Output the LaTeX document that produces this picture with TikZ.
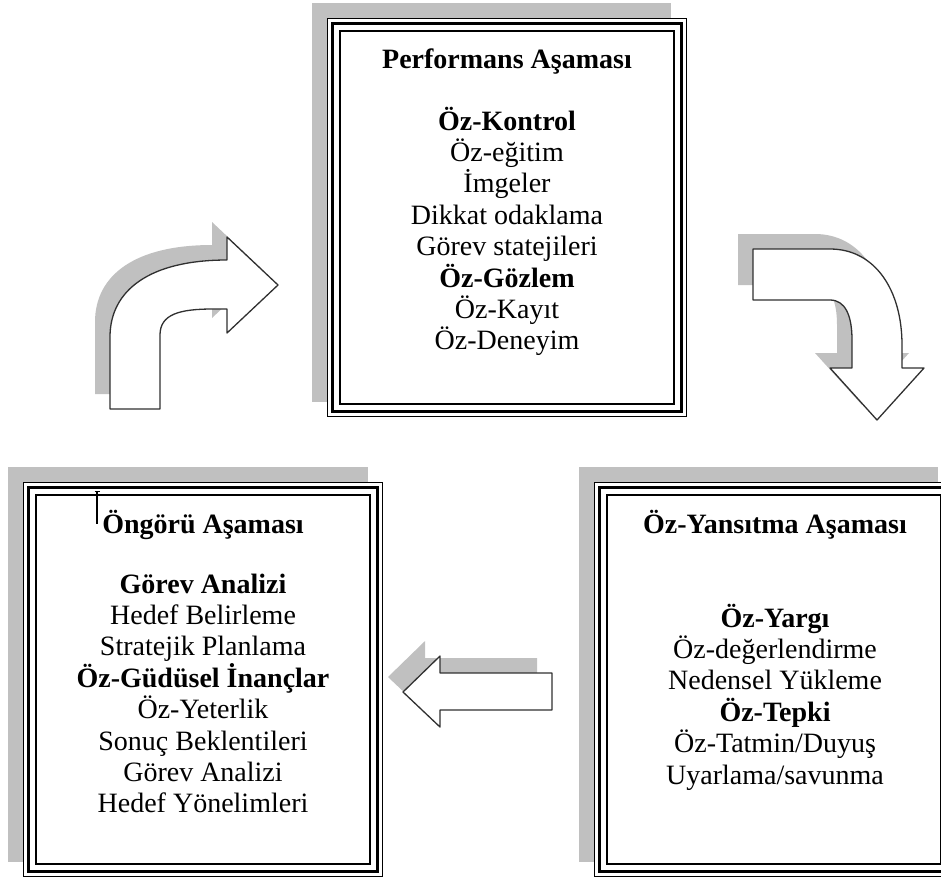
\documentclass[tikz,border=0pt]{standalone}
\usepackage{fontspec}
\setmainfont{Liberation Serif}
\definecolor{shadowgray}{HTML}{C0C0C0}
\definecolor{edgegray}{HTML}{303030}
\tikzset{
  shadowbox/.style={fill=shadowgray, draw=none},
  frameouter/.style={draw=black, line width=1.3pt, fill=white, inner sep=0pt,
                     minimum width=358.6pt},
  framethick/.style={draw=black, line width=3pt},
  framethin/.style={draw=black, line width=1.3pt},
  txt/.style={anchor=base, inner sep=0pt, font=\fontsize{28}{31.4}\selectfont},
  head/.style={anchor=base, inner sep=0pt, font=\fontsize{28}{31.4}\selectfont\bfseries},
  blockarrow/.style={draw=edgegray, line width=1.3pt, fill=white, line join=round},
  arrowshadow/.style={fill=shadowgray, draw=none},
  arrowL/.style={insert path={(110,409) -- (110,337) .. controls (110,290) and (150,260) .. (227,260)
      -- (227,237) -- (278,285) -- (227,333) -- (227,309) -- (213,309)
      .. controls (180,309) and (160,314) .. (160,335) -- (160,409) -- cycle}},
  arrowR/.style={insert path={(753,249) -- (830,249) .. controls (875,249) and (902,290) .. (902,345)
      -- (902,368) -- (924,368) -- (877,420) -- (830,368) -- (852,368) -- (852,340)
      .. controls (852,315) and (845,300) .. (830,300) -- (753,300) -- cycle}},
  arrowB/.style={insert path={(403,692) -- (440,656) -- (440,673) -- (552,673) -- (552,710)
      -- (440,710) -- (440,727) -- cycle}},
}
\begin{document}
\begin{tikzpicture}[x=1pt, y=-1pt]
\useasboundingbox (0,0) rectangle (941,879);

% ---------- shadows of the boxes ----------
\fill[shadowbox] (312,3) rectangle (671,402);
\fill[shadowbox] (8,467) rectangle (368,862);
\fill[shadowbox] (579,467) rectangle (938,862);

% ---------- framed boxes ----------
\node[frameouter, minimum height=397.6pt] (perf) at (507,217.5) {};
\node[frameouter, minimum height=393.6pt] (ongoru) at (203,679.5) {};
\node[frameouter, minimum height=393.6pt] (yans) at (774,679.5) {};
\foreach \b in {perf, ongoru, yans} {
  \draw[framethick] ([shift={(5,5)}]\b.north west) rectangle ([shift={(-5,-5)}]\b.south east);
  \draw[framethin] ([shift={(13,13)}]\b.north west) rectangle ([shift={(-13,-13)}]\b.south east);
}

% ---------- block arrows ----------
\fill[arrowshadow, shift={(-15,-15)}, arrowL];
\path[blockarrow, arrowL];
\fill[arrowshadow, shift={(-15,-15)}, arrowR];
\path[blockarrow, arrowR];
\fill[arrowshadow, shift={(-15,-15)}, arrowB];
\path[blockarrow, arrowB];

% ---------- texts: Performans ----------
\node[head] (perf-title) at (507,68) {Performans Aşaması};
\foreach \t [count=\i from 0] in {{\textbf{Öz-Kontrol}}, Öz-eğitim, İmgeler, Dikkat odaklama,
    Görev statejileri, {\textbf{Öz-Gözlem}}, Öz-Kayıt, Öz-Deneyim}
  \node[txt] (perf-\i) at (507,130+31.4*\i) {\t};

% ---------- texts: Öngörü ----------
\node[head] (ongoru-title) at (203,533) {Öngörü Aşaması};
\foreach \t [count=\i from 0] in {{\textbf{Görev Analizi}}, Hedef Belirleme, Stratejik Planlama,
    {\textbf{Öz-Güdüsel İnançlar}}, Öz-Yeterlik, Sonuç Beklentileri, Görev Analizi, Hedef Yönelimleri}
  \node[txt] (ongoru-\i) at (203,593+31.4*\i) {\t};
\coordinate (cur-top) at (97,491);
\coordinate (cur-bot) at (97,524);
\draw[line width=2pt] (cur-top) -- (cur-bot);
\draw[line width=1pt] ([xshift=-2.5pt]cur-top) -- ([xshift=2.5pt]cur-top);

% ---------- texts: Öz-Yansıtma ----------
\node[head] (yans-title) at (775,533) {Öz-Yansıtma Aşaması};
\foreach \t [count=\i from 0] in {{\textbf{Öz-Yargı}}, Öz-değerlendirme, Nedensel Yükleme,
    {\textbf{Öz-Tepki}}, Öz-Tatmin/Duyuş, Uyarlama/savunma}
  \node[txt] (yans-\i) at (775,627+31.4*\i) {\t};
\end{tikzpicture}
\end{document}
